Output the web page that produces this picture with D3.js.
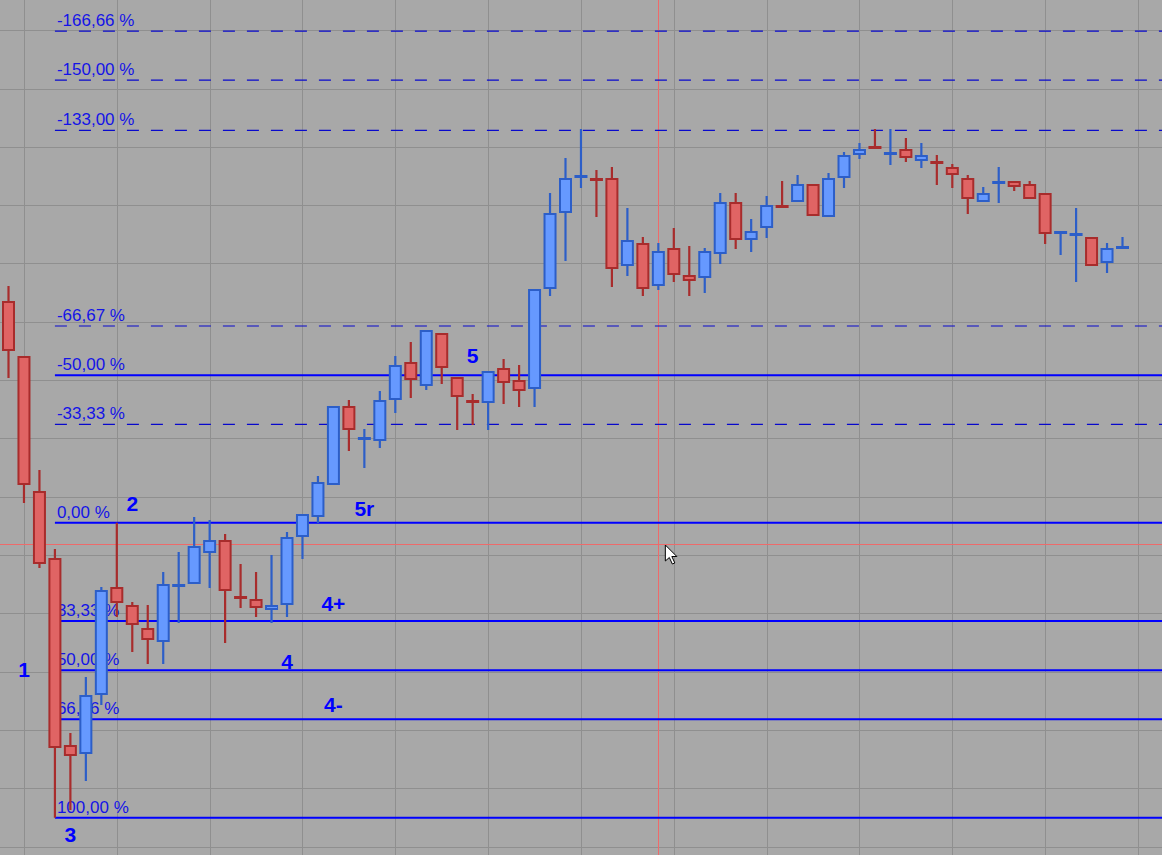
<!DOCTYPE html>
<html>
<head>
<meta charset="utf-8">
<script src="https://cdn.jsdelivr.net/npm/d3@7"></script>
<style>
  html,body{margin:0;padding:0;background:#a8a8a8;overflow:hidden;}
  svg{display:block;}
</style>
</head>
<body>
<svg id="chart" width="1162" height="855"></svg>
<script>
// candles (one entry per bar)
const opens =[169.9,164.4,150.9,144.2,125.5,124.6,130.5,141.3,139.5,137.2,135.8,141.3,141.6,144.7,146.0,140.4,140.1,139.0,139.5,146.3,
              148.3,151.5,159.4,156.1,155.9,160.0,163.8,161.4,166.7,162.3,160.0,159.7,163.2,162.0,161.1,171.1,178.7,182.2,182.2,182.2,
              173.4,175.7,171.4,175.2,172.5,172.2,174.6,179.8,176.0,177.2,179.5,179.8,181.6,178.3,182.2,184.5,185.4,184.5,185.1,183.9,
              183.9,183.3,182.2,179.8,181.6,181.9,181.6,180.7,176.6,176.5,176.3,173.7,175.2];
const highs =[171.4,164.4,153.0,145.1,126.7,132.3,141.3,147.73,139.8,139.5,142.8,144.8,148.3,148.0,146.6,143.6,142.8,144.5,146.8,148.6,
              152.4,159.4,160.0,157.1,160.9,164.4,165.8,167.0,166.7,162.3,160.6,162.9,164.1,163.5,171.1,180.7,184.2,187.1,183.0,183.3,
              179.2,176.3,175.7,177.2,175.4,175.2,180.7,180.7,178.1,180.4,181.9,182.5,181.6,182.7,184.8,185.7,187.1,187.1,186.2,185.7,
              184.5,183.6,182.5,181.3,183.3,181.9,181.9,180.7,176.9,179.2,176.3,175.7,176.3];
const lows  =[162.2,149.7,143.2,118.23,119.0,121.9,129.5,138.3,134.8,133.6,133.6,137.7,141.6,141.2,135.7,139.2,138.3,137.7,138.3,144.1,
              147.7,151.5,154.9,153.2,155.2,158.7,160.2,161.0,161.6,157.0,157.5,157.0,159.6,159.3,159.3,170.4,173.9,181.2,178.3,171.3,
              172.4,170.4,171.0,171.8,170.4,170.7,173.6,175.1,174.8,176.2,179.2,179.8,178.4,178.3,181.2,184.1,185.1,183.5,183.8,183.2,
              181.5,181.2,178.6,179.8,179.7,180.9,180.1,175.6,174.5,171.8,173.4,172.7,175.2];
const closes=[164.9,151.5,143.6,125.2,124.4,130.5,141.0,139.7,137.5,136.0,141.6,141.6,145.4,146.0,140.9,140.1,139.2,139.5,146.3,148.6,
              151.8,159.4,157.0,156.3,160.0,163.5,162.0,167.0,163.2,160.3,159.7,162.9,161.7,160.9,171.1,178.7,182.2,182.5,181.9,173.1,
              176.0,171.1,174.9,172.5,171.9,174.9,179.8,176.0,176.9,179.5,179.2,181.6,178.4,182.2,184.5,185.1,185.1,184.8,184.2,184.5,
              183.6,182.5,180.1,180.7,181.9,181.3,180.1,176.6,176.9,176.7,173.4,175.2,175.4];

// fibonacci retracement: from bar 7 high (point 2) to bar 3 low (point 3)
const fibHighIndex=7;
const fibLowIndex=3;
const fibPcts =[-166.66,-150,-133,-66.67,-50,-33.33,0,33.33,50,66.66,100];
const fibSolid=[false,false,false,false,true,false,true,true,true,true,true];

// wave counting labels
const waveTexts =["1","2","3","4","4+","4-","5","5r"];
const waveIndex =[1,8,4,18,21,21,30,23];
const wavePrices=[132.3,148.9,115.8,133.1,138.9,128.8,163.7,148.4];

// horizontal grid levels
const gridPrices=[196.97,191.14,185.31,179.48,173.65,167.81,161.98,156.15,150.32,144.49,138.66,132.83,127.00,121.17,115.34];

// crosshair
const crossIndex=42;
const crossPrice=145.6;

const width=1162, height=855;
const svg=d3.select("#chart");

const x=d3.scaleLinear().domain([0,72]).range([8.5,1122.5]);
const y=d3.scaleLinear().domain([114.5,200]).range([height,0]);

svg.append("rect")
    .attr("width",width)
    .attr("height",height)
    .attr("fill","#a8a8a8");

// grid
const grid=svg.append("g");
grid.selectAll("line.h")
    .data(gridPrices)
    .join("line")
    .attr("class","h")
    .attr("x1",0).attr("x2",width)
    .attr("y1",d=>Math.round(y(d))+0.5)
    .attr("y2",d=>Math.round(y(d))+0.5)
    .attr("stroke","#8f8f8f")
    .attr("stroke-width",1);
grid.selectAll("line.v")
    .data(d3.range(0,13).map(k=>1+6*k))
    .join("line")
    .attr("class","v")
    .attr("x1",d=>Math.round(x(d))+0.5)
    .attr("x2",d=>Math.round(x(d))+0.5)
    .attr("y1",0).attr("y2",height)
    .attr("stroke","#8f8f8f")
    .attr("stroke-width",1);

// crosshair lines
svg.append("line")
    .attr("x1",Math.round(x(crossIndex))+0.5)
    .attr("x2",Math.round(x(crossIndex))+0.5)
    .attr("y1",0).attr("y2",height)
    .attr("stroke","#ee6a6a")
    .attr("stroke-width",1);
svg.append("line")
    .attr("x1",0).attr("x2",width)
    .attr("y1",Math.round(y(crossPrice))+0.5)
    .attr("y2",Math.round(y(crossPrice))+0.5)
    .attr("stroke","#ee6a6a")
    .attr("stroke-width",1);

// fib lines + labels
const fibHigh=highs[fibHighIndex];
const fibLow=lows[fibLowIndex];
const fibX=x(fibLowIndex);
const fmt=d3.formatLocale({decimal:",",thousands:".",grouping:[3],currency:["",""],minus:"-"}).format(".2f");
const fib=svg.append("g");
fibPcts.forEach((p,i)=>{
    const level=fibHigh-p/100*(fibHigh-fibLow);
    const ly=y(level);
    fib.append("line")
        .attr("x1",fibX)
        .attr("x2",width)
        .attr("y1",ly)
        .attr("y2",ly)
        .attr("stroke",fibSolid[i]?"#0000ff":"#0808cc")
        .attr("stroke-width",fibSolid[i]?2:1.2)
        .attr("stroke-dasharray",fibSolid[i]?null:"12,12");
});

// candles
const candles=svg.append("g");
const bodyW=11;
for(let i=0;i<opens.length;i++){
    const up=closes[i]>=opens[i];
    const stroke=up?"#2c5ec8":"#a82c2c";
    const fill=up?"#6699ff":"#e06464";
    const cx=x(i);
    candles.append("line")
        .attr("x1",cx).attr("x2",cx)
        .attr("y1",y(highs[i]))
        .attr("y2",y(lows[i]))
        .attr("stroke",stroke)
        .attr("stroke-width",2.2);
    const top=y(Math.max(opens[i],closes[i]));
    const bot=y(Math.min(opens[i],closes[i]));
    candles.append("rect")
        .attr("x",cx-bodyW/2)
        .attr("y",top+1)
        .attr("width",bodyW)
        .attr("height",Math.max(1,bot-top-2))
        .attr("fill",fill)
        .attr("stroke",stroke)
        .attr("stroke-width",2);
}

// fib labels on top
fibPcts.forEach((p,i)=>{
    const level=fibHigh-p/100*(fibHigh-fibLow);
    fib.append("text")
        .attr("x",fibX+2)
        .attr("y",y(level)-5)
        .attr("font-family","'Liberation Sans', Arial, sans-serif")
        .attr("font-size",17)
        .attr("fill","#1414e6")
        .text(fmt(p)+" %");
});

// wave labels
svg.append("g").selectAll("text")
    .data(waveTexts)
    .join("text")
    .attr("x",(d,i)=>x(waveIndex[i]))
    .attr("y",(d,i)=>y(wavePrices[i]))
    .attr("text-anchor","middle")
    .attr("font-family","'Liberation Sans', Arial, sans-serif")
    .attr("font-weight","bold")
    .attr("font-size",21)
    .attr("fill","#0000ff")
    .text(d=>d);

// mouse pointer
const px=x(crossIndex)+7, py=y(crossPrice)+1;
svg.append("path")
    .attr("transform",`translate(${px},${py})`)
    .attr("d","M0,0 L0,16 L4,12.5 L7,19 L9.5,18 L6.5,11.5 L11.5,11.5 Z")
    .attr("fill","#ffffff")
    .attr("stroke","#000000")
    .attr("stroke-width",1)
    .attr("stroke-linejoin","miter");
</script>
</body>
</html>
